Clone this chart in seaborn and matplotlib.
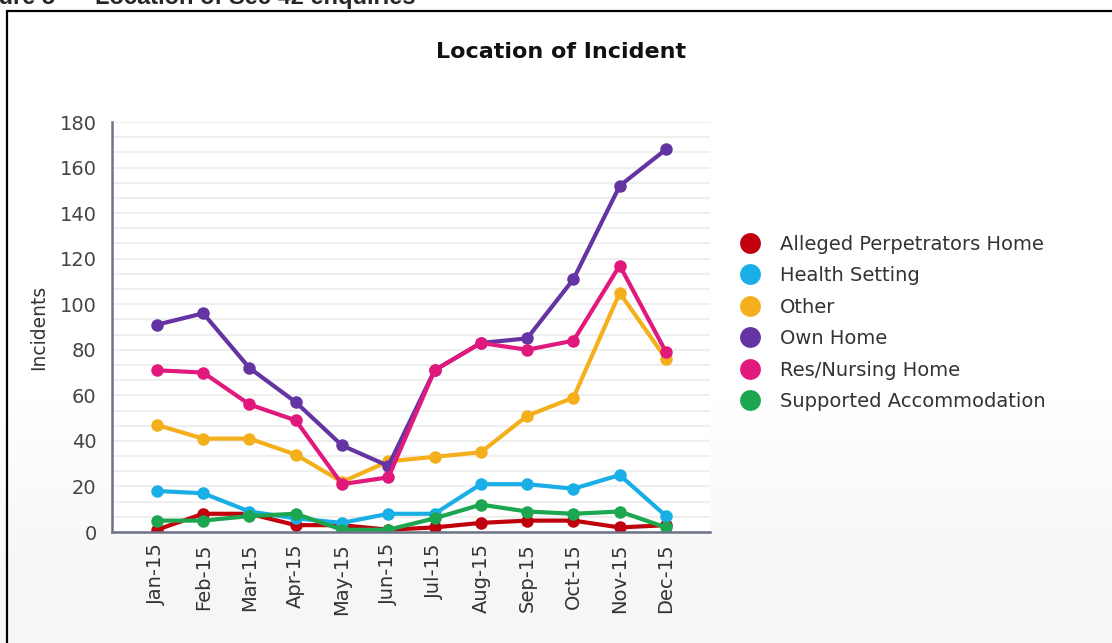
import numpy as np
import pandas as pd
import matplotlib
matplotlib.use("Agg")
import matplotlib.pyplot as plt
import seaborn as sns
from matplotlib.lines import Line2D
from matplotlib.ticker import MultipleLocator
from matplotlib.patches import Rectangle

months = ["Jan-15", "Feb-15", "Mar-15", "Apr-15", "May-15", "Jun-15",
          "Jul-15", "Aug-15", "Sep-15", "Oct-15", "Nov-15", "Dec-15"]
series_names = ["Alleged Perpetrators Home", "Health Setting", "Other",
                "Own Home", "Res/Nursing Home", "Supported Accommodation"]
alleged = [1, 8, 8, 3, 3, 1, 2, 4, 5, 5, 2, 3]
health = [18, 17, 9, 6, 4, 8, 8, 21, 21, 19, 25, 7]
other = [47, 41, 41, 34, 22, 31, 33, 35, 51, 59, 105, 76]
own_home = [91, 96, 72, 57, 38, 29, 71, 83, 85, 111, 152, 168]
res_nursing = [71, 70, 56, 49, 21, 24, 71, 83, 80, 84, 117, 79]
supported = [5, 5, 7, 8, 1, 1, 6, 12, 9, 8, 9, 2]
colors = ["#c0000c", "#1aaee6", "#f4b01c", "#6434a2", "#e2197c", "#1ba64f"]

values = [alleged, health, other, own_home, res_nursing, supported]
df = pd.DataFrame([
    {"idx": i, "month": m, "series": s, "value": v}
    for s, vals in zip(series_names, values)
    for i, (m, v) in enumerate(zip(months, vals))
])

sns.set_theme(style="white")
plt.rcParams["font.family"] = ["DejaVu Sans"]

W, H = 1112, 643
fig = plt.figure(figsize=(W / 100, H / 100), dpi=100)

# background gradient
bg = fig.add_axes([0, 0, 1, 1], zorder=-10)
grad = np.ones((300, 1, 3))
t = np.linspace(0, 1, 300)
shade = np.where(t < 0.62, 1.0, 1.0 - np.clip((t - 0.62) / 0.3, 0, 1) * 0.035)
grad[:, 0, :] = shade[:, None]
bg.imshow(grad, aspect="auto", extent=[0, 1, 0, 1], origin="upper")
bg.set_axis_off()

ax = fig.add_axes([112 / W, 1 - 532 / H, (710 - 112) / W, (532 - 122) / H])
ax.set_facecolor("white")

sns.lineplot(data=df, x="idx", y="value", hue="series", hue_order=series_names,
             palette=colors, marker="o", markersize=9, markeredgewidth=0,
             linewidth=3, ax=ax, legend=False)

ax.set_xlim(-0.97, 11.95)
ax.set_ylim(0, 180)
ax.set_xticks(range(len(months)))
ax.set_xticklabels(months, rotation=90, fontsize=14, color="#333333")
ax.set_yticks(range(0, 181, 20))
ax.set_yticklabels([str(v) for v in range(0, 181, 20)], fontsize=14, color="#444444")
ax.yaxis.set_minor_locator(MultipleLocator(20 / 3))
ax.grid(True, which="both", axis="y", color="#efefef", linewidth=1.5)
ax.set_axisbelow(True)
ax.tick_params(axis="x", length=0, pad=8)
ax.tick_params(axis="y", length=0, pad=11)
ax.tick_params(axis="y", which="minor", length=0)
for s in ["top", "right"]:
    ax.spines[s].set_visible(False)
ax.spines["left"].set_color("#6d7386")
ax.spines["left"].set_linewidth(1.8)
ax.spines["bottom"].set_color("#6d7386")
ax.spines["bottom"].set_linewidth(1.8)
ax.set_xlabel("")
ax.set_ylabel("Incidents", fontsize=13.5, color="#333333", labelpad=8)

ax.set_title("Location of Incident", fontsize=16, fontweight="bold",
             color="#111111", x=(561 - 112) / (710 - 112), pad=46)

handles = [Line2D([], [], marker="o", linestyle="", color=c, markersize=15,
                  markeredgewidth=0) for c in colors]
fig.legend(handles=handles, labels=series_names, loc="upper left",
           bbox_to_anchor=(731 / W, 1 - 227 / H), frameon=False,
           fontsize=14, labelcolor="#333333", handletextpad=0.9,
           labelspacing=0.64, borderaxespad=0, handlelength=1.2)

# outer frame
fig.patches.append(Rectangle((7 / W, -0.1), 1.2, 1.1 - 11.5 / H,
                             transform=fig.transFigure, fill=False,
                             edgecolor="black", linewidth=1.6))

# heading above the frame, cut off at the top edge as in the source
fig.text(75 / W, 1 - 4 / H, "Figure 5 \u2013", ha="right", va="baseline",
         fontsize=17, fontweight="bold", family=["Liberation Sans", "DejaVu Sans"])
fig.text(95 / W, 1 - 4 / H, "Location of Sec 42 enquiries", ha="left", va="baseline",
         fontsize=17, fontweight="bold", family=["Liberation Sans", "DejaVu Sans"])

fig.savefig("out.png", dpi=100)
